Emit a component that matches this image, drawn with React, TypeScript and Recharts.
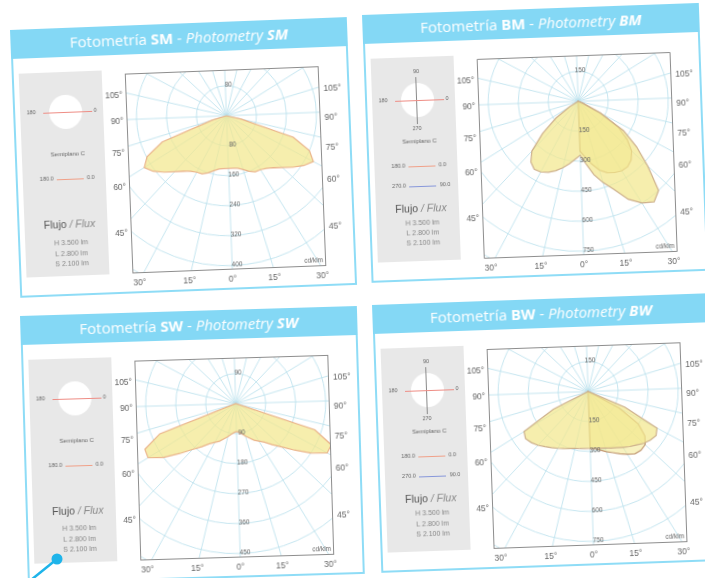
import React from "react";
import { RadarChart, Radar, PolarGrid, PolarAngleAxis, PolarRadiusAxis } from "recharts";

// intensity in cd/klm per gamma angle 0°, 5°, 10°, ... (missing = 0)
const smC0 = [140, 141, 143, 150, 160, 168, 170, 176, 187, 203, 224, 245, 262, 240, 187, 40, 0];
const smC180 = [140, 141, 143, 150, 160, 168, 170, 176, 187, 203, 224, 245, 259, 238, 185, 40, 0];

const bmC0 = [270, 315, 375, 425, 475, 550, 600, 630, 600, 475, 370, 270, 125, 25, 0];
const bmC180 = [270, 290, 315, 340, 365, 385, 400, 405, 385, 340, 240, 140, 50, 0];
const bmC90 = [250, 280, 320, 360, 385, 400, 410, 410, 395, 365, 310, 240, 125, 25, 0];
const bmC270: number[] = [];

const swC0 = [84, 87, 93, 102, 111, 123, 132, 144, 165, 189, 225, 270, 312, 312, 250, 0];
const swC180 = [84, 87, 93, 102, 111, 123, 132, 144, 165, 189, 225, 270, 309, 305, 245, 0];

const bwC0 = [285, 285, 290, 295, 305, 315, 330, 345, 360, 380, 395, 405, 390, 200, 0];
const bwC180 = [285, 285, 288, 292, 300, 310, 322, 335, 350, 368, 382, 392, 378, 195, 0];
const bwC90 = [285, 290, 300, 315, 330, 350, 370, 390, 395, 390, 360, 300, 175, 0];
const bwC270: number[] = [];

const smRings = ["80", "160", "240", "320", "400"];
const bmRings = ["150", "300", "450", "600", "750"];
const swRings = ["90", "180", "270", "360", "450"];
const bwRings = ["150", "300", "450", "600", "750"];

const sideLabels = ["105°", "90°", "75°", "60°", "45°"];
const bottomLabels = ["30°", "15°", "0°", "15°", "30°"];
const fluxLines = ["H 3.500 lm", "L 2.800 lm", "S 2.100 lm"];

const SPOKES = [0, 15, 30, 45, 60, 75, 90, 105, 120, 135, 150, 165, 180, 195, 210, 225, 240, 255, 270, 285, 300, 315, 330, 345];
const RING_PX = [30, 60, 90, 120, 150, 180, 210];

const W = 337;
const H = 268;
const BOX = { x: 113, y: 48, w: 194, h: 200 };
const CX = 100;
const CY = 46;
const GREY = "#666";

function buildRows(c0: number[], c180: number[], c90?: number[], c270?: number[]) {
  const rows = [];
  for (let g = 0; g < 360; g += 5) {
    const right = g <= 180;
    const i = right ? g / 5 : (360 - g) / 5;
    rows.push({
      g,
      a: (right ? c0[i] : c180[i]) ?? 0,
      b: c90 ? ((right ? c90[i] : c270![i]) ?? 0) : 0,
    });
  }
  return rows;
}

function T({ x, y, size, color = GREY, align = "center", children, style }: any) {
  const tx = align === "center" ? "-50%" : align === "right" ? "-100%" : "0";
  return (
    <div
      style={{
        position: "absolute",
        left: x,
        top: y,
        transform: `translate(${tx}, -50%)`,
        fontSize: size,
        color,
        lineHeight: 1,
        whiteSpace: "nowrap",
        fontFamily: "'Liberation Sans', Arial, sans-serif",
        ...style,
      }}
    >
      {children}
    </div>
  );
}

function HLine({ x1, x2, y, color }: any) {
  return <div style={{ position: "absolute", left: x1, top: y, width: x2 - x1, height: 1, background: color }} />;
}

function Legend({ double }: { double: boolean }) {
  const cy = double ? 87 : 84;
  return (
    <>
      <div style={{ position: "absolute", left: 7, top: 44, width: 83, height: 204, background: "#e8e8e8" }} />
      <div
        style={{
          position: "absolute",
          left: 52 - 16.5,
          top: cy - 17,
          width: 33,
          height: 34,
          borderRadius: "50%",
          background: "#fff",
        }}
      />
      {double && <div style={{ position: "absolute", left: 51, top: cy - 23, width: 1, height: 47, background: "#8a8a8a" }} />}
      <HLine x1={30} x2={79} y={cy} color="#ee8c84" />
      <T x={18} y={cy} size={5.5}>180</T>
      <T x={82} y={cy} size={5.5}>0</T>
      {double && <T x={52} y={cy - 28} size={5.5}>90</T>}
      {double && <T x={51} y={cy + 29} size={5.5}>270</T>}
      <T x={53} y={double ? 128 : 126} size={6}>Semiplano C</T>
      <T x={31} y={double ? 153 : 151} size={5.5}>180.0</T>
      <HLine x1={41} x2={68} y={double ? 153 : 151} color="#f0a088" />
      <T x={75} y={double ? 153 : 151} size={5.5}>0.0</T>
      {double && (
        <>
          <T x={31} y={173} size={5.5}>270.0</T>
          <HLine x1={41} x2={68} y={173} color="#8797da" />
          <T x={77} y={173} size={5.5}>90.0</T>
        </>
      )}
      <T x={52} y={double ? 195 : 196} size={10.5} color="#555">
        Flujo <i style={{ color: "#888" }}>/ Flux</i>
      </T>
      {fluxLines.map((t, k) => (
        <T key={t} x={53} y={(double ? 210 : 214) + k * (double ? 10 : 10.5)} size={7} color="#888">
          {t}
        </T>
      ))}
    </>
  );
}

function Polar({ rows, step, rings, twoPlanes, strokeA, strokeB }: any) {
  return (
    <div style={{ position: "absolute", left: BOX.x, top: BOX.y, width: BOX.w, height: BOX.h, background: "#fff" }}>
      <RadarChart
        width={BOX.w}
        height={BOX.h}
        data={rows}
        cx={CX}
        cy={CY}
        outerRadius={210}
        startAngle={-90}
        endAngle={270}
        margin={{ top: 0, right: 0, bottom: 0, left: 0 }}
      >
        <PolarGrid gridType="circle" polarAngles={SPOKES} polarRadius={RING_PX} stroke="#b7dfec" strokeWidth={0.8} />
        <PolarAngleAxis dataKey="g" type="number" domain={[0, 360]} tick={false} tickLine={false} axisLine={false} />
        <PolarRadiusAxis type="number" domain={[0, step * 7]} tick={false} tickLine={false} axisLine={false} />
        {twoPlanes && (
          <Radar
            dataKey="b"
            stroke={strokeB}
            strokeWidth={1.2}
            fill="#f3e88d"
            fillOpacity={0.55}
            dot={false}
            isAnimationActive={false}
          />
        )}
        <Radar
          dataKey="a"
          stroke={strokeA}
          strokeWidth={1.2}
          fill="#f3e88d"
          fillOpacity={0.72}
          dot={false}
          isAnimationActive={false}
        />
      </RadarChart>
      <T x={CX + 3} y={CY - 31} size={6.5}>{rings[0]}</T>
      {rings.map((r: string, k: number) => (
        <T key={r} x={CX + 5} y={CY + (k + 1) * 30 - 1} size={6.5}>
          {r}
        </T>
      ))}
      <T x={BOX.w - 3} y={BOX.h - 6} size={6.5} align="right">cd/klm</T>
      <div style={{ position: "absolute", inset: 0, border: "1.6px solid #8d8d8d" }} />
    </div>
  );
}

function Panel({ code, left, top, rot, rows, step, rings, double, strokeA, strokeB }: any) {
  const leftY = [69, 95, 127, 161, 207];
  const rightY = [70, 99, 129, 161, 208];
  const bottomX = [120, 170, 213, 255, 303];
  return (
    <div
      style={{
        position: "absolute",
        left,
        top,
        width: W,
        height: H,
        transform: `rotate(${rot}deg)`,
        transformOrigin: "0 0",
        background: "#fff",
        filter: "blur(0.35px)",
      }}
    >
      <div
        style={{
          position: "absolute",
          left: 0,
          top: 0,
          width: W,
          height: H,
          border: "2px solid #8edcf6",
          boxSizing: "border-box",
        }}
      />
      <div
        style={{
          position: "absolute",
          left: 0,
          top: 0,
          width: W,
          height: 29,
          background: "#84d8f5",
          color: "#fff",
          fontFamily: "'Open Sans', sans-serif",
          fontSize: 15,
          lineHeight: "29px",
          textAlign: "center",
          whiteSpace: "nowrap",
        }}
      >
        Fotometría <b>{code}</b> - <i>Photometry</i> <b><i>{code}</i></b>
      </div>
      <Legend double={double} />
      <Polar rows={rows} step={step} rings={rings} twoPlanes={double} strokeA={strokeA} strokeB={strokeB} />
      {sideLabels.map((s, k) => (
        <T key={"l" + s} x={110} y={leftY[k]} size={8.5} align="right">{s}</T>
      ))}
      {sideLabels.map((s, k) => (
        <T key={"r" + s} x={311} y={rightY[k]} size={8.5} align="left">{s}</T>
      ))}
      {bottomLabels.map((s, k) => (
        <T key={"b" + k} x={bottomX[k]} y={257} size={8.5}>{s}</T>
      ))}
    </div>
  );
}

export default function App() {
  const smRows = buildRows(smC0, smC180);
  const bmRows = buildRows(bmC0, bmC180, bmC90, bmC270);
  const swRows = buildRows(swC0, swC180);
  const bwRows = buildRows(bwC0, bwC180, bwC90, bwC270);
  return (
    <div style={{ position: "absolute", left: 0, top: 0, width: 705, height: 578, overflow: "hidden", background: "#fff" }}>
      <Panel code="SM" left={10} top={30} rot={-2.2} rows={smRows} step={80} rings={smRings} double={false} strokeA="#eab48a" />
      <Panel code="BM" left={362} top={15} rot={-2.05} rows={bmRows} step={150} rings={bmRings} double strokeA="#cdb08c" strokeB="#c29a74" />
      <Panel code="SW" left={20} top={316} rot={-1.7} rows={swRows} step={90} rings={swRings} double={false} strokeA="#eab48a" />
      <Panel code="BW" left={372} top={305} rot={-2.0} rows={bwRows} step={150} rings={bwRings} double strokeA="#cdb08c" strokeB="#c29a74" />
      <svg width={705} height={578} style={{ position: "absolute", left: 0, top: 0, pointerEvents: "none" }}>
        <line x1={31} y1={580} x2={57} y2={559} stroke="#1eb4ea" strokeWidth={2.5} />
        <circle cx={57} cy={559} r={5.5} fill="#1eb4ea" />
      </svg>
    </div>
  );
}
